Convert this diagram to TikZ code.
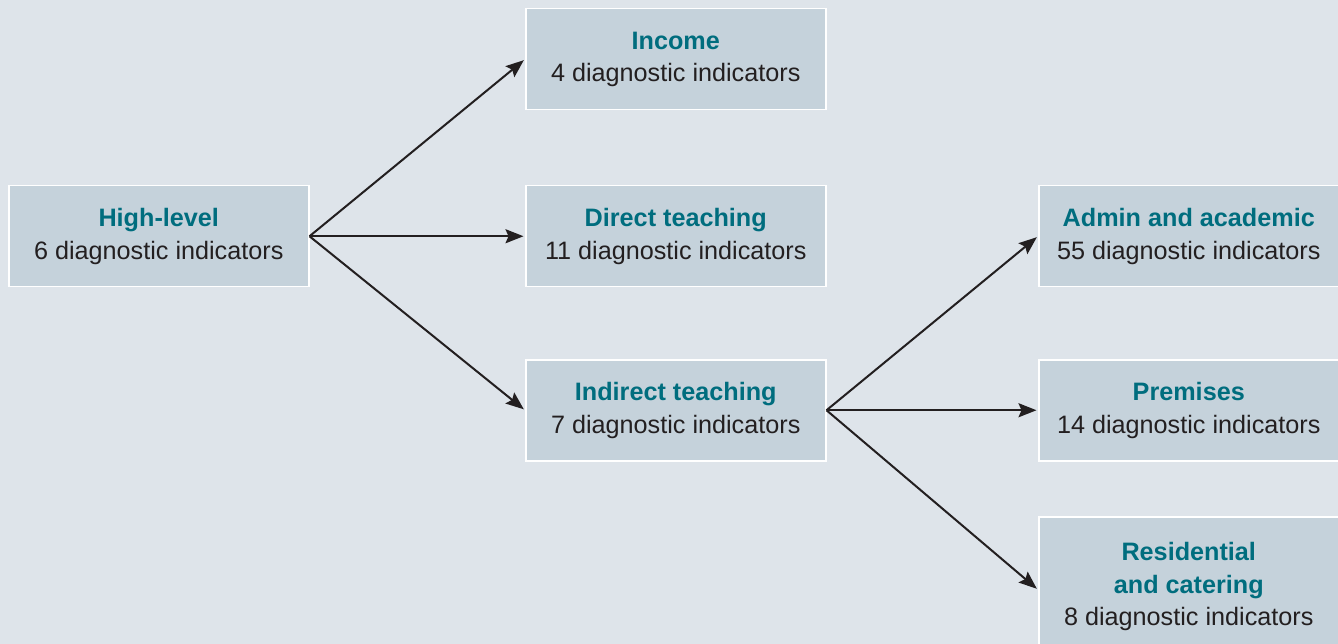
\documentclass[tikz,border=0pt]{standalone}
\usepackage{fontspec}
\setmainfont{Liberation Sans}
\usetikzlibrary{arrows.meta}
\definecolor{bgc}{HTML}{DEE4EA}
\definecolor{boxc}{HTML}{C5D2DB}
\definecolor{titlec}{HTML}{006D7E}
\definecolor{textc}{HTML}{231F20}
\tikzset{
  box/.style={draw=white, line width=1.5pt, fill=boxc, minimum width=300pt, minimum height=101pt,
    anchor=north west, align=center, text=textc, inner sep=0pt,
    font=\fontsize{25.2}{32.5}\selectfont},
  conn/.style={draw=textc, line width=2pt, -{Stealth[length=18pt,width=14pt,inset=3pt]}, shorten >=1.5pt},
}
\newcommand{\ttl}[1]{\textcolor{titlec}{\textbf{#1}}}
\begin{document}
\begin{tikzpicture}[x=1pt,y=-1pt]
\clip (0,0) rectangle (1338,644);
\fill[bgc] (0,0) rectangle (1338,644);
\node[box] (hl) at (8,185) {\ttl{High-level}\\6 diagnostic indicators};
\node[box] (inc) at (525,8) {\ttl{Income}\\4 diagnostic indicators};
\node[box] (dt) at (525,185) {\ttl{Direct teaching}\\11 diagnostic indicators};
\node[box] (it) at (525,359) {\ttl{Indirect teaching}\\7 diagnostic indicators};
\node[box] (adm) at (1038,185) {\ttl{Admin and academic}\\55 diagnostic indicators};
\node[box] (pre) at (1038,359) {\ttl{Premises}\\14 diagnostic indicators};
\node[box, minimum height=140pt] (res) at (1038,516) {\ttl{Residential}\\\ttl{and catering}\\8 diagnostic indicators};
\draw[conn] (hl.east) -- (inc.west);
\draw[conn] (hl.east) -- (dt.west);
\draw[conn] (hl.east) -- (it.west);
\draw[conn] (it.east) -- (adm.west);
\draw[conn] (it.east) -- (pre.west);
\draw[conn] (it.east) -- ([yshift=-3pt]res.west);
\end{tikzpicture}
\end{document}
